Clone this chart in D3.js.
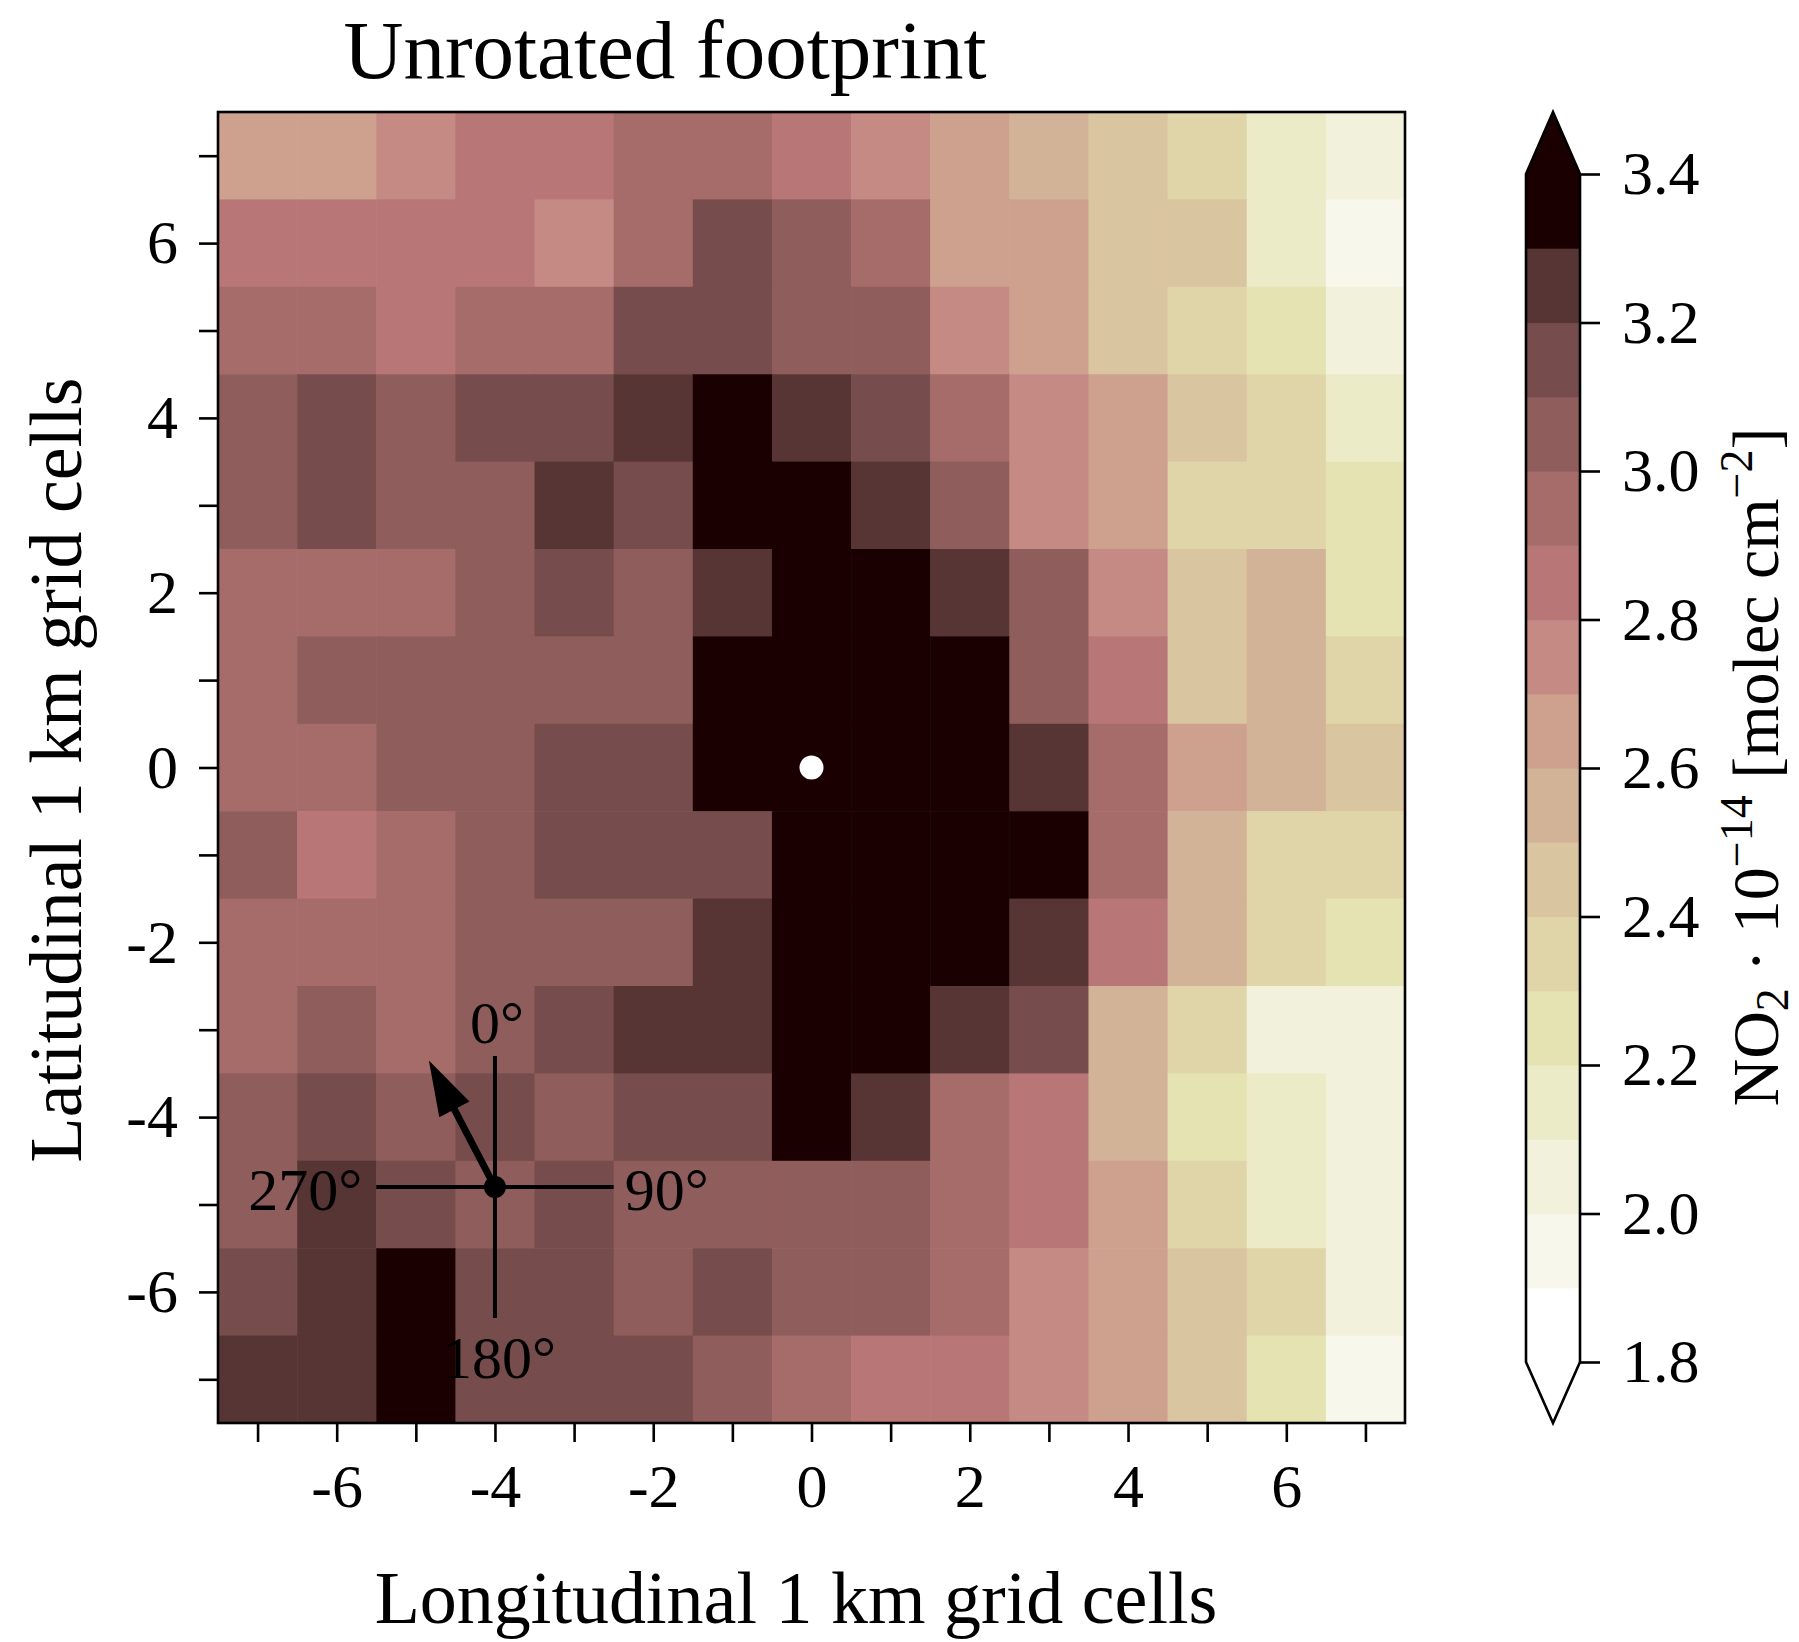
<!DOCTYPE html>
<html>
<head>
<meta charset="utf-8">
<script src="https://cdnjs.cloudflare.com/ajax/libs/d3/7.8.5/d3.min.js"></script>
<style>
body{margin:0;background:#fff}
svg text{font-family:"Liberation Serif","DejaVu Serif",serif;fill:#000}
</style>
</head>
<body>
<svg id="chart" width="1799" height="1642"></svg>
<script>
// grid cell centres (km)
var lonCells = [-7,-6,-5,-4,-3,-2,-1,0,1,2,3,4,5,6,7]
var latCells = [7,6,5,4,3,2,1,0,-1,-2,-3,-4,-5,-6,-7]

// NO2 * 1e-14 molec cm-2, one row per latitude (top row first)
var no2Rows = [
  [2.65,2.65,2.75,2.85,2.85,2.95,2.95,2.85,2.75,2.65,2.55,2.45,2.35,2.15,2.05],
  [2.85,2.85,2.85,2.85,2.75,2.95,3.15,3.05,2.95,2.65,2.65,2.45,2.45,2.15,1.95],
  [2.95,2.95,2.85,2.95,2.95,3.15,3.15,3.05,3.05,2.75,2.65,2.45,2.35,2.25,2.05],
  [3.05,3.15,3.05,3.15,3.15,3.25,3.45,3.25,3.15,2.95,2.75,2.65,2.45,2.35,2.15],
  [3.05,3.15,3.05,3.05,3.25,3.15,3.45,3.45,3.25,3.05,2.75,2.65,2.35,2.35,2.25],
  [2.95,2.95,2.95,3.05,3.15,3.05,3.25,3.45,3.45,3.25,3.05,2.75,2.45,2.55,2.25],
  [2.95,3.05,3.05,3.05,3.05,3.05,3.45,3.45,3.45,3.45,3.05,2.85,2.45,2.55,2.35],
  [2.95,2.95,3.05,3.05,3.15,3.15,3.45,3.45,3.45,3.45,3.25,2.95,2.65,2.55,2.45],
  [3.05,2.85,2.95,3.05,3.15,3.15,3.15,3.45,3.45,3.45,3.45,2.95,2.55,2.35,2.35],
  [2.95,2.95,2.95,3.05,3.05,3.05,3.25,3.45,3.45,3.45,3.25,2.85,2.55,2.35,2.25],
  [2.95,3.05,2.95,3.05,3.15,3.25,3.25,3.45,3.45,3.25,3.15,2.55,2.35,2.05,2.05],
  [3.05,3.15,3.05,3.15,3.05,3.15,3.15,3.45,3.25,2.95,2.85,2.55,2.25,2.15,2.05],
  [3.05,3.25,3.15,3.05,3.15,3.05,3.05,3.05,3.05,2.95,2.85,2.65,2.35,2.15,2.05],
  [3.15,3.25,3.45,3.15,3.15,3.05,3.15,3.05,3.05,2.95,2.75,2.65,2.45,2.35,2.05],
  [3.25,3.25,3.45,3.15,3.15,3.15,3.05,2.95,2.85,2.85,2.75,2.65,2.45,2.25,1.95]
]

var cbarBounds = [1.8,1.9,2.0,2.1,2.2,2.3,2.4,2.5,2.6,2.7,2.8,2.9,3.0,3.1,3.2,3.3,3.4]
var cbarColors = ["#ffffff","#f8f7ec","#f2f1dc","#ecebc7","#e5e3b1","#e0d5a9","#dac5a1","#d3b398",
                  "#cda18e","#c58a84","#b87776","#a56c69","#8f5d5c","#764c4c","#573535","#1b0001"]
var underColor = "#ffffff"
var overColor = "#1b0001"
var cbarTicks = [1.8,2.0,2.2,2.4,2.6,2.8,3.0,3.2,3.4]
var axisTicks = [-7,-6,-5,-4,-3,-2,-1,0,1,2,3,4,5,6,7]

// wind compass
var compassCentre = [-4,-4.8]
var compassArm = 1.5
var windDir = 330
var windLen = 1.67
var compassLabels = ["0°","90°","180°","270°"]

var svg = d3.select("#chart")

var x = d3.scaleLinear().domain([-7.5,7.5]).range([218,1405])
var y = d3.scaleLinear().domain([-7.5,7.5]).range([1423,112])
var color = d3.scaleThreshold().domain(cbarBounds).range([underColor].concat(cbarColors,[overColor]))

var cells = []
no2Rows.forEach(function(row,i){
  row.forEach(function(v,j){
    cells.push({lon:lonCells[j],lat:latCells[i],v:v})
  })
})

svg.append("g").selectAll("rect")
  .data(cells)
  .enter()
  .append("rect")
  .attr("x",function(d){return x(d.lon-0.5)})
  .attr("y",function(d){return y(d.lat+0.5)})
  .attr("width",function(d){return x(d.lon+0.5)-x(d.lon-0.5)+0.6})
  .attr("height",function(d){return y(d.lat-0.5)-y(d.lat+0.5)+0.6})
  .attr("fill",function(d){return color(d.v)})

// axes
var xAxis = svg.append("g").attr("transform","translate(0,1423)")
  .call(d3.axisBottom(x).tickValues(axisTicks).tickSize(19).tickPadding(21)
    .tickFormat(function(d){return d%2===0 ? String(d) : ""}))
var yAxis = svg.append("g").attr("transform","translate(218,0)")
  .call(d3.axisLeft(y).tickValues(axisTicks).tickSize(19).tickPadding(21)
    .tickFormat(function(d){return d%2===0 ? String(d) : ""}))
;[xAxis,yAxis].forEach(function(a){
  a.select(".domain").remove()
  a.selectAll("line").attr("stroke","#000").attr("stroke-width",2.6)
  a.selectAll("text").style("font-size","62px").attr("fill","#000")
})

svg.append("rect")
  .attr("x",218).attr("y",112)
  .attr("width",1405-218).attr("height",1423-112)
  .attr("fill","none").attr("stroke","#000").attr("stroke-width",2.6)

// white source marker
svg.append("circle").attr("cx",x(0)).attr("cy",y(0)).attr("r",12).attr("fill","#fff")

// compass
var cx = x(compassCentre[0]), cy = y(compassCentre[1])
var comp = svg.append("g")
comp.append("line")
  .attr("x1",x(compassCentre[0]-compassArm)).attr("x2",x(compassCentre[0]+compassArm))
  .attr("y1",cy).attr("y2",cy)
  .attr("stroke","#000").attr("stroke-width",4)
comp.append("line")
  .attr("x1",cx).attr("x2",cx)
  .attr("y1",y(compassCentre[1]+compassArm)).attr("y2",y(compassCentre[1]-compassArm))
  .attr("stroke","#000").attr("stroke-width",4)

var rad = windDir*Math.PI/180
var tipX = x(compassCentre[0]+windLen*Math.sin(rad))
var tipY = y(compassCentre[1]+windLen*Math.cos(rad))
var len = Math.hypot(tipX-cx,tipY-cy)
var ux = (tipX-cx)/len, uy = (tipY-cy)/len
var headLen = 55, headW = 17
var bx = tipX-ux*headLen, by = tipY-uy*headLen
comp.append("line")
  .attr("x1",cx).attr("y1",cy)
  .attr("x2",bx+ux*4).attr("y2",by+uy*4)
  .attr("stroke","#000").attr("stroke-width",7)
comp.append("path")
  .attr("d","M"+tipX+","+tipY+"L"+(bx-uy*headW)+","+(by+ux*headW)+"L"+(bx+uy*headW)+","+(by-ux*headW)+"Z")
  .attr("fill","#000")
comp.append("circle").attr("cx",cx).attr("cy",cy).attr("r",11).attr("fill","#000")

var armTop = y(compassCentre[1]+compassArm), armBot = y(compassCentre[1]-compassArm)
var armL = x(compassCentre[0]-compassArm), armR = x(compassCentre[0]+compassArm)
comp.append("text").text(compassLabels[0]).attr("x",cx+2).attr("y",armTop-13)
  .attr("text-anchor","middle").style("font-size","60px")
comp.append("text").text(compassLabels[1]).attr("x",armR+11).attr("y",cy+23)
  .attr("text-anchor","start").style("font-size","60px")
comp.append("text").text(compassLabels[2]).attr("x",cx+4).attr("y",armBot+60)
  .attr("text-anchor","middle").style("font-size","60px")
comp.append("text").text(compassLabels[3]).attr("x",armL-14).attr("y",cy+23)
  .attr("text-anchor","end").style("font-size","60px")

// colorbar
var cb = d3.scaleLinear().domain([1.8,3.4]).range([1362,174])
var cbL = 1526, cbR = 1580, cbMid = (cbL+cbR)/2
var cbg = svg.append("g")
cbg.selectAll("rect")
  .data(cbarColors)
  .enter()
  .append("rect")
  .attr("x",cbL)
  .attr("y",function(d,i){return cb(cbarBounds[i+1])})
  .attr("width",cbR-cbL)
  .attr("height",function(d,i){return cb(cbarBounds[i])-cb(cbarBounds[i+1])+0.6})
  .attr("fill",function(d){return d})
cbg.append("path").attr("d","M"+cbL+","+cb(3.4)+"L"+cbMid+",112L"+cbR+","+cb(3.4)+"Z").attr("fill",overColor)
cbg.append("path").attr("d","M"+cbL+","+cb(1.8)+"L"+cbMid+",1423L"+cbR+","+cb(1.8)+"Z").attr("fill",underColor)
cbg.append("path")
  .attr("d","M"+cbL+","+cb(3.4)+"L"+cbMid+",112L"+cbR+","+cb(3.4)+"L"+cbR+","+cb(1.8)+"L"+cbMid+",1423L"+cbL+","+cb(1.8)+"Z")
  .attr("fill","none").attr("stroke","#000").attr("stroke-width",2.6)

var cAxis = svg.append("g").attr("transform","translate("+cbR+",0)")
  .call(d3.axisRight(cb).tickValues(cbarTicks).tickSize(20).tickPadding(22).tickFormat(d3.format(".1f")))
cAxis.select(".domain").remove()
cAxis.selectAll("line").attr("stroke","#000").attr("stroke-width",2.6)
cAxis.selectAll("text").style("font-size","62px").attr("fill","#000")

// labels
svg.append("text").text("Unrotated footprint")
  .attr("x",665).attr("y",78).attr("text-anchor","middle").style("font-size","83px")
svg.append("text").text("Longitudinal 1 km grid cells")
  .attr("x",796).attr("y",1623).attr("text-anchor","middle").style("font-size","74px")
svg.append("text").text("Latitudinal 1 km grid cells")
  .attr("transform","translate(81,770) rotate(-90)").attr("text-anchor","middle").style("font-size","74px")

var cl = svg.append("text")
  .attr("transform","translate(1778,767) rotate(-90)").attr("text-anchor","middle").style("font-size","66px")
cl.append("tspan").text("NO")
cl.append("tspan").text("2").style("font-size","46px").attr("dy",10)
cl.append("tspan").text(" · 10").attr("dy",-10)
cl.append("tspan").text("−14").style("font-size","46px").attr("dy",-26)
cl.append("tspan").text(" [molec cm").attr("dy",26)
cl.append("tspan").text("−2").style("font-size","46px").attr("dy",-26)
cl.append("tspan").text("]").attr("dy",26)
</script>
</body>
</html>
